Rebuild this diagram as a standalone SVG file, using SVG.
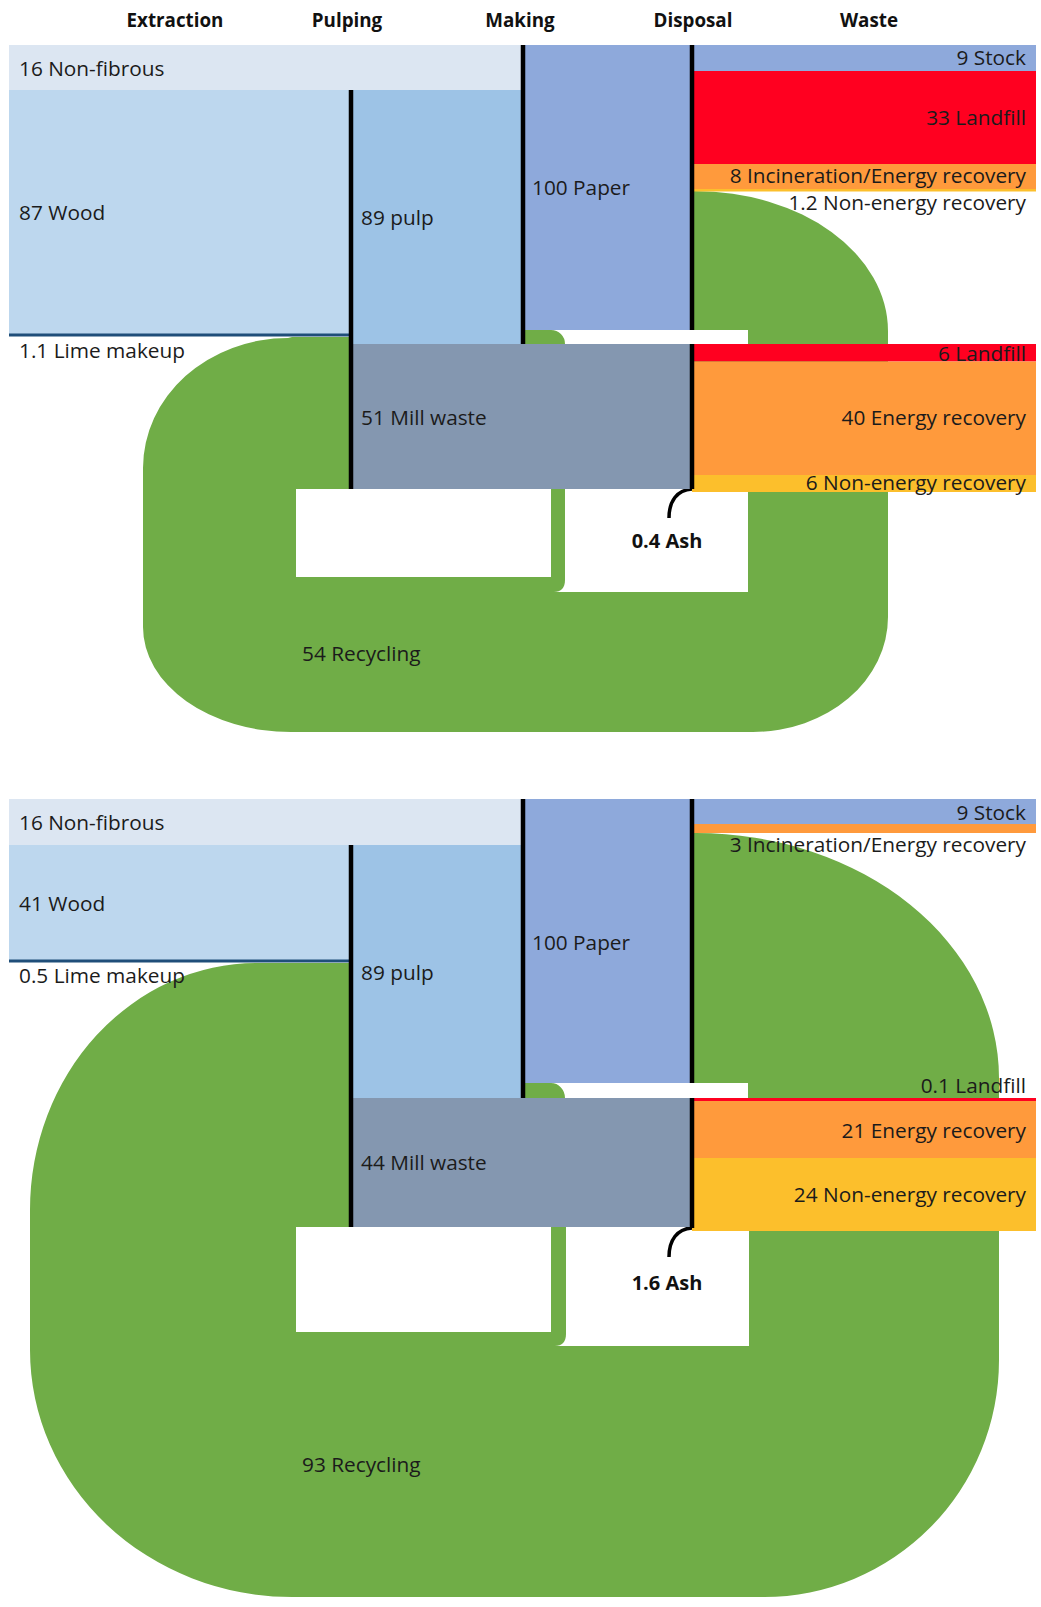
<svg xmlns="http://www.w3.org/2000/svg" width="1041" height="1607" viewBox="0 0 1041 1607">
<style>
text{font-family:"Open Sans","Liberation Sans",Arial,sans-serif;font-size:20.8px;fill:#1b1b1b}
.h{font-weight:bold;font-size:18.8px;text-anchor:middle;fill:#111}
.ash{font-weight:bold;font-size:20px;text-anchor:middle;fill:#111}
.r{text-anchor:end}
.g{fill:#70AD47}
.w{fill:#FFFFFF}
.nf{fill:#DCE6F2}
.wood{fill:#BDD7EE}
.pulp{fill:#9DC3E6}
.paper{fill:#8EA9DB}
.mill{fill:#8497B0}
.red{fill:#FF0020}
.org{fill:#FF9A3C}
.yel{fill:#FCBF2C}
.bl{stroke:#000;stroke-width:4.5;fill:none}
.lime{stroke:#1F4E79;stroke-width:3;fill:none}
.ashc{stroke:#000;stroke-width:3.5;fill:none}
</style>

<g id="headers">
<text class="h" x="175" y="27">Extraction</text>
<text class="h" x="347" y="27">Pulping</text>
<text class="h" x="520" y="27">Making</text>
<text class="h" x="693" y="27">Disposal</text>
<text class="h" x="869" y="27">Waste</text>
</g>

<!-- ================= TOP DIAGRAM ================= -->
<g id="top-connectors">
<path id="top-recycling-flow" class="g" d="M292,337 H351 V330 H692 V191 H695 A193,140 0 0 1 888,331 V617 A135,115 0 0 1 753,732 H291 A148,105 0 0 1 143,627 V468 A145,130 0 0 1 288,338 Z"/>
<path class="w" d="M551,330 H748 V344 H565 A14,14 0 0 0 551,330 Z"/>
<rect class="w" x="296" y="489" width="255" height="88"/>
<path class="w" d="M565,489 H748 V592 H554 C561,592 565,588 565,580 Z"/>
<path class="ashc" d="M692,489 C677,490 669,501 669,518"/>
</g>

<g id="top-nonfibrous"><rect class="nf" x="9" y="45" width="514" height="45"/><text x="19" y="76">16 Non-fibrous</text></g>
<g id="top-wood"><rect class="wood" x="9" y="90" width="342" height="245"/><text x="19" y="220">87 Wood</text></g>
<g id="top-pulp"><rect class="pulp" x="351" y="90" width="172" height="254"/><text x="361" y="225">89 pulp</text></g>
<g id="top-paper"><rect class="paper" x="523" y="45" width="169" height="285"/><text x="532" y="195">100 Paper</text></g>
<g id="top-millwaste"><rect class="mill" x="351" y="344" width="341" height="145"/><text x="361" y="425">51 Mill waste</text></g>
<g id="top-stock"><rect class="paper" x="692" y="45" width="344" height="26"/><text class="r" x="1026" y="65">9 Stock</text></g>
<g id="top-landfill"><rect class="red" x="692" y="71" width="344" height="93"/><text class="r" x="1026" y="125">33 Landfill</text></g>
<g id="top-incineration"><rect class="org" x="692" y="164" width="344" height="25"/><text class="r" x="1026" y="183">8 Incineration/Energy recovery</text></g>
<g id="top-nonenergy1"><rect class="yel" x="692" y="189" width="344" height="2.5"/><text class="r" x="1026" y="210">1.2 Non-energy recovery</text></g>
<g id="top-landfill2"><rect class="red" x="692" y="344" width="344" height="17.5"/><text class="r" x="1026" y="361">6 Landfill</text></g>
<g id="top-energy"><rect class="org" x="692" y="361.5" width="344" height="113.5"/><text class="r" x="1026" y="425">40 Energy recovery</text></g>
<g id="top-nonenergy2"><rect class="yel" x="692" y="475" width="344" height="17"/><text class="r" x="1026" y="490">6 Non-energy recovery</text></g>
<g id="top-lines">
<line class="lime" x1="9" y1="335" x2="351" y2="335"/>
<line class="bl" x1="351" y1="90" x2="351" y2="489"/>
<line class="bl" x1="523" y1="45" x2="523" y2="344"/>
<line class="bl" x1="692" y1="45" x2="692" y2="330"/>
<line class="bl" x1="692" y1="344" x2="692" y2="489"/>
</g>
<g id="top-labels">
<text x="19" y="358">1.1 Lime makeup</text>
<text x="302" y="661">54 Recycling</text>
<text class="ash" x="667" y="548">0.4 Ash</text>
</g>

<!-- ================= BOTTOM DIAGRAM ================= -->
<g id="bottom-connectors">
<path id="bottom-recycling-flow" class="g" d="M257,963 H351 V1083 H692 V833 H696 A303,245 0 0 1 999,1078 V1360 A235,237 0 0 1 764,1597 H292 A262,247 0 0 1 30,1350 V1210 A227,247 0 0 1 257,963 Z"/>
<path class="w" d="M551,1083 H748 V1098 H565 A14,15 0 0 0 551,1083 Z"/>
<rect class="w" x="296" y="1227" width="255" height="105"/>
<path class="w" d="M566,1227 H749 V1346 H555 C562,1346 566,1342 566,1334 Z"/>
<path class="ashc" d="M692,1228 C677,1229 669,1240 669,1257"/>
</g>

<g id="bot-nonfibrous"><rect class="nf" x="9" y="799" width="514" height="46"/><text x="19" y="830">16 Non-fibrous</text></g>
<g id="bot-wood"><rect class="wood" x="9" y="845" width="342" height="116"/><text x="19" y="911">41 Wood</text></g>
<g id="bot-pulp"><rect class="pulp" x="351" y="845" width="172" height="253"/><text x="361" y="980">89 pulp</text></g>
<g id="bot-paper"><rect class="paper" x="523" y="799" width="169" height="284"/><text x="532" y="950">100 Paper</text></g>
<g id="bot-millwaste"><rect class="mill" x="351" y="1098" width="341" height="129"/><text x="361" y="1170">44 Mill waste</text></g>
<g id="bot-stock"><rect class="paper" x="692" y="799" width="344" height="25"/><text class="r" x="1026" y="820">9 Stock</text></g>
<g id="bot-incineration"><rect class="org" x="692" y="824" width="344" height="9"/><text class="r" x="1026" y="852">3 Incineration/Energy recovery</text></g>
<g id="bot-landfill"><rect class="red" x="692" y="1098" width="344" height="3"/><text class="r" x="1026" y="1093">0.1 Landfill</text></g>
<g id="bot-energy"><rect class="org" x="692" y="1101" width="344" height="57"/><text class="r" x="1026" y="1138">21 Energy recovery</text></g>
<g id="bot-nonenergy"><rect class="yel" x="692" y="1158" width="344" height="73"/><text class="r" x="1026" y="1202">24 Non-energy recovery</text></g>
<g id="bot-lines">
<line class="lime" x1="9" y1="961" x2="351" y2="961"/>
<line class="bl" x1="351" y1="845" x2="351" y2="1227"/>
<line class="bl" x1="523" y1="799" x2="523" y2="1098"/>
<line class="bl" x1="692" y1="799" x2="692" y2="1083"/>
<line class="bl" x1="692" y1="1098" x2="692" y2="1228"/>
</g>
<g id="bot-labels">
<text x="19" y="983">0.5 Lime makeup</text>
<text x="302" y="1472">93 Recycling</text>
<text class="ash" x="667" y="1290">1.6 Ash</text>
</g>
</svg>
